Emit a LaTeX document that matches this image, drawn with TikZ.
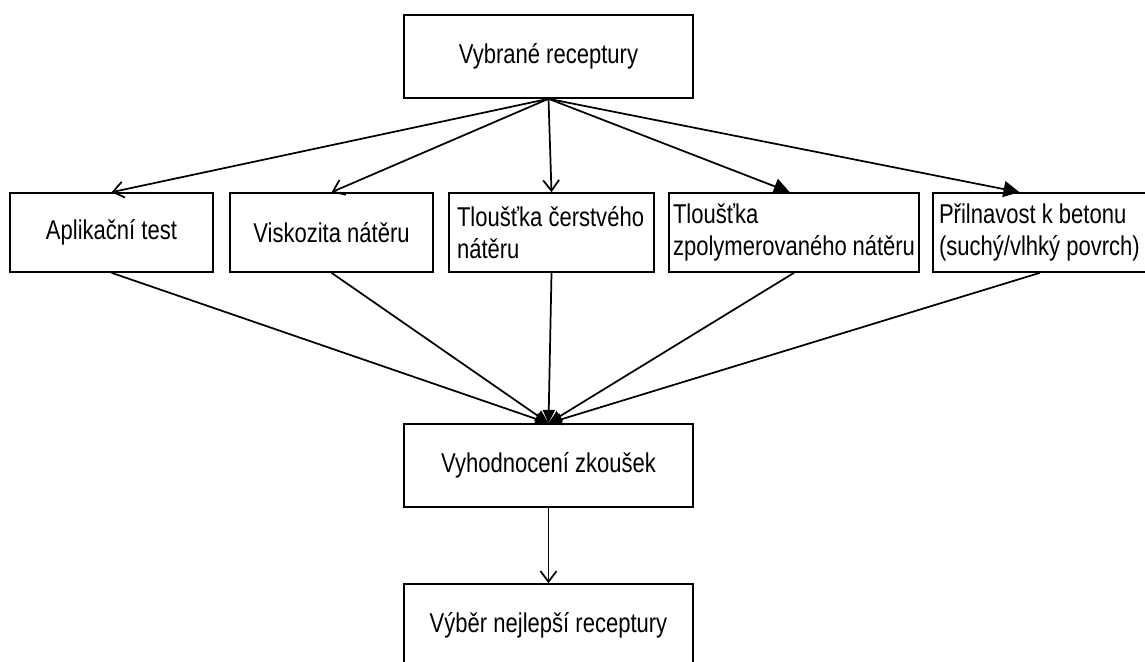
\documentclass[tikz,border=0pt]{standalone}
\usepackage{fontspec}
\setmainfont{Liberation Sans}[FakeStretch=0.81]
\usetikzlibrary{arrows.meta}

\begin{document}
\begin{tikzpicture}[x=0.75pt, y=-0.75pt, line width=1.3pt,
    box/.style={draw, line width=1.2pt, inner sep=0pt, minimum height=59.25pt, font=\fontsize{20.4}{24.5}\selectfont},
    bigbox/.style={box, minimum width=216.75pt, minimum height=62.25pt},
    openarrow/.style={-{Straight Barb[length=8pt,width=12pt,line width=1.3pt]}},
    fullarrow/.style={-{Triangle[length=12pt,width=12pt]}},
    smallarrow/.style={-{Triangle[length=10pt,width=9pt]}}]
    \clip (0,0) rectangle (1145,661);

    % Start
    \node[bigbox] (sel) at (548.5,56.5) {Vybrané receptury};

    % Tests
    \node[box, minimum width=152.25pt] (app) at (111.5,232.5) {Aplikační test};
    \node[box, minimum width=152.25pt] (visk) at (331.5,232.5) {Viskozita nátěru};
    \node[box, inner xsep=6pt, text width=141.75pt, align=flush left] (fresh) at (551.5,232.5) {Tloušťka čerstvého\\nátěru};
    \node[box, inner xsep=3pt, text width=181.5pt, align=flush left] (poly) at (794,232.5) {Tloušťka\\zpolymerovaného~nátěru};
    \node[box, inner xsep=4.5pt, text width=151.5pt, align=flush left] (adh) at (1040,232.5) {Přilnavost k~betonu\\(suchý/vlhký~povrch)};

    % Evaluation
    \node[bigbox] (eval) at (548.5,465.5) {Vyhodnocení zkoušek};
    \node[bigbox] (best) at (548.5,625.5) {Výběr nejlepší receptury};

    % Arrows down to tests
    \draw[openarrow] (sel.south) -- (app.north);
    \draw[openarrow] (sel.south) -- (visk.north);
    \draw[openarrow] (sel.south) -- (fresh.north);
    \draw[fullarrow] (sel.south) -- (poly.96);
    \draw[fullarrow] (sel.south) -- (adh.117);

    % Arrows to evaluation
    \foreach \t in {app,visk,fresh,poly,adh}
        \draw[smallarrow] (\t.south) -- (eval.north);
    \draw[openarrow] (eval.south) -- (best.north);
\end{tikzpicture}
\end{document}
